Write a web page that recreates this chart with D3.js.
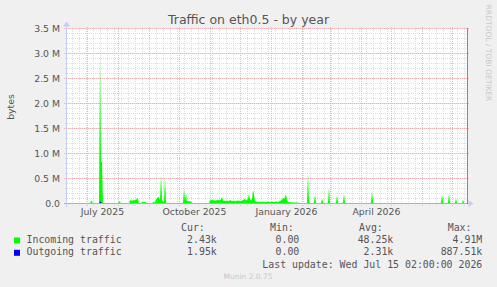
<!DOCTYPE html>
<html>
<head>
<meta charset="utf-8">
<script src="https://cdn.jsdelivr.net/npm/d3@7"></script>
<style>
  body { margin: 0; background: #f0f0f0; }
  svg { display: block; }
</style>
</head>
<body>
<svg id="chart"></svg>
<script>
// one sample per day, values in k bytes
const startDate = new Date(Date.UTC(2025, 5, 10, 2));
const endDate = new Date(Date.UTC(2026, 6, 15, 2));

const incomingK = [
  0, 0, 0, 0, 0, 0, 0, 0, 0, 0, 0, 0, 0, 0, 0, 0, 0, 0, 0, 0,
  0, 0, 0, 0, 50, 40, 0, 0, 0, 0, 0, 0, 0, 2950, 850, 820, 0, 0, 0, 0,
  0, 0, 0, 0, 0, 0, 0, 0, 0, 0, 0, 0, 40, 35, 0, 0, 0, 0, 0, 0,
  0, 0, 0, 60, 70, 50, 70, 60, 80, 60, 110, 90, 0, 0, 0, 30, 25, 30, 30, 20,
  0, 0, 0, 0, 0, 0, 30, 30, 20, 80, 100, 130, 120, 60, 570, 90, 30, 40, 530, 20,
  0, 0, 0, 0, 0, 0, 0, 0, 0, 0, 0, 0, 0, 0, 0, 0, 20, 300, 60, 200,
  40, 50, 40, 50, 30, 20, 0, 0, 0, 0, 0, 0, 0, 0, 0, 0, 0, 0, 0, 0,
  0, 0, 0, 70, 60, 80, 60, 70, 50, 70, 60, 80, 60, 70, 80, 130, 60, 50, 60, 50,
  60, 50, 50, 70, 60, 50, 50, 60, 40, 50, 60, 50, 60, 50, 50, 60, 70, 80, 100, 60,
  70, 90, 200, 80, 60, 90, 270, 180, 50, 40, 40, 30, 40, 30, 30, 30, 40, 30, 30, 30,
  30, 40, 30, 30, 30, 40, 30, 30, 30, 40, 30, 30, 40, 50, 60, 80, 110, 90, 130, 190,
  60, 30, 30, 20, 30, 20, 20, 20, 20, 20, 20, 20, 0, 0, 0, 0, 0, 0, 0, 0,
  0, 600, 40, 0, 0, 0, 0, 20, 180, 20, 0, 0, 0, 0, 10, 100, 20, 0, 0, 0,
  0, 20, 320, 20, 0, 0, 0, 0, 0, 20, 170, 20, 0, 0, 0, 0, 20, 190, 20, 0,
  0, 0, 0, 0, 0, 0, 0, 0, 0, 0, 0, 0, 0, 0, 0, 0, 0, 0, 0, 0,
  0, 0, 0, 0, 20, 250, 30, 0, 0, 0, 0, 0, 0, 0, 0, 0, 0, 0, 0, 0,
  0, 0, 0, 0, 0, 0, 0, 0, 0, 0, 0, 0, 0, 0, 0, 0, 0, 0, 0, 0,
  0, 0, 0, 0, 0, 0, 0, 0, 0, 0, 0, 0, 0, 0, 0, 0, 0, 0, 0, 0,
  0, 0, 0, 0, 0, 0, 0, 0, 0, 0, 0, 0, 0, 0, 20, 180, 30, 0, 0, 0,
  0, 20, 200, 20, 0, 0, 0, 0, 10, 100, 10, 0, 0, 0, 0, 10, 80, 10, 0, 0
];

const outgoingK = [
  2, 2, 2, 2, 2, 2, 2, 2, 2, 2, 2, 2, 2, 2, 2, 2, 2, 2, 2, 2,
  2, 2, 2, 2, 3, 3, 2, 2, 2, 2, 2, 2, 2, 40, 25, 3, 2, 2, 2, 2,
  2, 2, 2, 2, 2, 2, 2, 2, 2, 2, 2, 2, 2, 2, 2, 2, 2, 2, 2, 2,
  2, 2, 2, 2, 2, 2, 2, 2, 2, 2, 3, 3, 2, 2, 2, 2, 2, 2, 2, 2,
  2, 2, 2, 2, 2, 2, 2, 2, 2, 2, 2, 3, 3, 2, 5, 2, 2, 2, 5, 2,
  2, 2, 2, 2, 2, 2, 2, 2, 2, 2, 2, 2, 2, 2, 2, 2, 2, 4, 2, 3,
  2, 2, 2, 2, 2, 2, 2, 2, 2, 2, 2, 2, 2, 2, 2, 2, 2, 2, 2, 2,
  2, 2, 2, 2, 2, 2, 2, 2, 2, 2, 2, 2, 2, 2, 2, 3, 2, 2, 2, 2,
  2, 2, 2, 2, 2, 2, 2, 2, 2, 2, 2, 2, 2, 2, 2, 2, 2, 2, 2, 2,
  2, 2, 3, 2, 2, 2, 3, 3, 2, 2, 2, 2, 2, 2, 2, 2, 2, 2, 2, 2,
  2, 2, 2, 2, 2, 2, 2, 2, 2, 2, 2, 2, 2, 2, 2, 2, 2, 2, 2, 3,
  2, 2, 2, 2, 2, 2, 2, 2, 2, 2, 2, 2, 2, 2, 2, 2, 2, 2, 2, 2,
  2, 5, 2, 2, 2, 2, 2, 2, 3, 2, 2, 2, 2, 2, 2, 2, 2, 2, 2, 2,
  2, 2, 4, 2, 2, 2, 2, 2, 2, 2, 3, 2, 2, 2, 2, 2, 2, 3, 2, 2,
  2, 2, 2, 2, 2, 2, 2, 2, 2, 2, 2, 2, 2, 2, 2, 2, 2, 2, 2, 2,
  2, 2, 2, 2, 2, 3, 2, 2, 2, 2, 2, 2, 2, 2, 2, 2, 2, 2, 2, 2,
  2, 2, 2, 2, 2, 2, 2, 2, 2, 2, 2, 2, 2, 2, 2, 2, 2, 2, 2, 2,
  2, 2, 2, 2, 2, 2, 2, 2, 2, 2, 2, 2, 2, 2, 2, 2, 2, 2, 2, 2,
  2, 2, 2, 2, 2, 2, 2, 2, 2, 2, 2, 2, 2, 2, 2, 3, 2, 2, 2, 2,
  2, 2, 3, 2, 2, 2, 2, 2, 2, 2, 2, 2, 2, 2, 2, 2, 2, 2, 2, 2
];

const yTickValues = [0, 0.5e6, 1.0e6, 1.5e6, 2.0e6, 2.5e6, 3.0e6, 3.5e6];
const yTickLabels = ['0.0', '0.5 M', '1.0 M', '1.5 M', '2.0 M', '2.5 M', '3.0 M', '3.5 M'];
const monthLabels = ['July 2025', 'October 2025', 'January 2026', 'April 2026'];
const monthLabelStarts = [Date.UTC(2025, 6, 1), Date.UTC(2025, 9, 1), Date.UTC(2026, 0, 1), Date.UTC(2026, 3, 1)];

const seriesNames = ['Incoming traffic', 'Outgoing traffic'];
const seriesColors = ['#00ff00', '#0000ff'];
const curValues = ['2.43k', '1.95k'];
const minValues = ['0.00', '0.00'];
const avgValues = ['48.25k', '2.31k'];
const maxValues = ['4.91M', '887.51k'];

const width = 497, height = 287;
const pLeft = 66.5, pRight = 466.5, pTop = 28.5, pBottom = 203.5;
const fontColor = '#555';
const minorColor = '#dedede', majorColor = '#f2b4b4';

const svg = d3.select('#chart')
  .attr('width', width)
  .attr('height', height)
  .attr('viewBox', `0 0 ${width} ${height}`);

svg.append('rect').attr('width', width).attr('height', height).attr('fill', '#f0f0f0');
svg.append('rect')
  .attr('x', pLeft).attr('y', pTop)
  .attr('width', pRight - pLeft).attr('height', pBottom - pTop)
  .attr('fill', '#fff');

const x = d3.scaleUtc().domain([startDate, endDate]).range([pLeft, pRight]);
const y = d3.scaleLinear().domain([0, 3.5e6]).range([pBottom, pTop]);
const snap = v => Math.round(v - 0.5) + 0.5;

// minor grid
const grid = svg.append('g').attr('shape-rendering', 'crispEdges');
grid.selectAll('line.vmin')
  .data(x.ticks(d3.utcMonday.every(1)))
  .enter().append('line')
    .attr('x1', d => snap(x(d))).attr('x2', d => snap(x(d)))
    .attr('y1', pTop - 2).attr('y2', pBottom + 2)
    .style('stroke', minorColor)
    .style('stroke-dasharray', '1,1');
grid.selectAll('line.hmin')
  .data(y.ticks(35))
  .enter().append('line')
    .attr('x1', pLeft - 2).attr('x2', pRight + 2)
    .attr('y1', d => snap(y(d))).attr('y2', d => snap(y(d)))
    .style('stroke', minorColor)
    .style('stroke-dasharray', '1,1');

// major grid
grid.selectAll('line.vmaj')
  .data(x.ticks(d3.utcMonth.every(1)))
  .enter().append('line')
    .attr('x1', d => snap(x(d))).attr('x2', d => snap(x(d)))
    .attr('y1', pTop - 2).attr('y2', pBottom + 3)
    .style('stroke', majorColor)
    .style('stroke-dasharray', '1,1');
grid.selectAll('line.hmaj')
  .data(yTickValues)
  .enter().append('line')
    .attr('x1', pLeft - 3).attr('x2', pRight + 2)
    .attr('y1', d => snap(y(d))).attr('y2', d => snap(y(d)))
    .style('stroke', majorColor)
    .style('stroke-dasharray', '1,1');

// series
const dayDate = i => d3.utcHour.offset(startDate, 24 * i + 12);
const inData = incomingK.map((v, i) => ({ date: dayDate(i), v: v * 1000 }));
const outData = outgoingK.map((v, i) => ({ date: dayDate(i), v: v * 1000 }));

const area = d3.area()
  .x(d => x(d.date))
  .y0(y(0))
  .y1(d => y(d.v));

svg.append('path')
  .datum(inData)
  .attr('d', area)
  .attr('fill', seriesColors[0]);
svg.append('path')
  .datum(outData)
  .attr('d', area)
  .attr('fill', seriesColors[1]);

// axes with arrows
const axisColor = '#a8a8ec';
svg.append('line')
  .attr('x1', pLeft - 3).attr('x2', pRight + 2)
  .attr('y1', pBottom).attr('y2', pBottom)
  .style('stroke', axisColor)
  .attr('shape-rendering', 'crispEdges');
svg.append('line')
  .attr('x1', pLeft).attr('x2', pLeft)
  .attr('y1', pBottom + 3).attr('y2', pTop - 3)
  .style('stroke', '#c8ccf6')
  .attr('shape-rendering', 'crispEdges');
svg.append('path')
  .attr('d', `M${pRight + 2},${pBottom - 3.5}L${pRight + 7},${pBottom}L${pRight + 2},${pBottom + 3.5}Z`)
  .attr('fill', '#c8ccf6');
svg.append('path')
  .attr('d', `M${pLeft - 3.5},${pTop - 2}L${pLeft},${pTop - 7}L${pLeft + 3.5},${pTop - 2}Z`)
  .attr('fill', '#c8ccf6');

// right frame
svg.append('line')
  .attr('x1', pRight + 0.5).attr('x2', pRight + 0.5)
  .attr('y1', pTop - 0.5).attr('y2', pBottom)
  .style('stroke', '#8a8a8a')
  .attr('shape-rendering', 'crispEdges');

// y tick labels
svg.append('g')
  .selectAll('text')
  .data(yTickValues)
  .enter().append('text')
    .attr('x', 60)
    .attr('y', d => y(d) + 3.3)
    .attr('text-anchor', 'end')
    .style('font-family', 'DejaVu Sans')
    .style('font-size', '9.3px')
    .style('fill', fontColor)
    .text((d, i) => yTickLabels[i]);

// x labels, centred half a month after the month start
svg.append('g')
  .selectAll('text')
  .data(monthLabelStarts)
  .enter().append('text')
    .attr('x', d => x(d3.utcDay.offset(new Date(d), 15)))
    .attr('y', 215)
    .attr('text-anchor', 'middle')
    .style('font-family', 'DejaVu Sans')
    .style('font-size', '9.3px')
    .style('fill', fontColor)
    .text((d, i) => monthLabels[i]);

// title and axis label
svg.append('text')
  .attr('x', 248.5).attr('y', 23.5)
  .attr('text-anchor', 'middle')
  .style('font-family', 'DejaVu Sans')
  .style('font-size', '12.5px')
  .style('fill', fontColor)
  .text('Traffic on eth0.5 - by year');
svg.append('text')
  .attr('transform', `translate(13.5, ${(pTop + pBottom) / 2 - 9}) rotate(-90)`)
  .attr('text-anchor', 'middle')
  .style('font-family', 'DejaVu Sans')
  .style('font-size', '9.3px')
  .style('fill', fontColor)
  .text('bytes');
svg.append('text')
  .attr('transform', 'translate(485.5, 53) rotate(90)')
  .attr('text-anchor', 'middle')
  .style('font-family', 'DejaVu Sans')
  .style('font-size', '7.5px')
  .style('fill', '#c8c8c8')
  .text('RRDTOOL / TOBI OETIKER');

// legend
const mono = sel => sel
  .style('font-family', 'DejaVu Sans Mono')
  .style('font-size', '9.9px')
  .style('fill', fontColor);
const headers = [['Cur:', 181], ['Min:', 270], ['Avg:', 359], ['Max:', 447.7]];
headers.forEach(([t, hx]) => {
  svg.append('text').attr('x', hx).attr('y', 231).call(mono).text(t);
});
const colEnds = [216.8, 299.3, 393.3, 482.3];
const colValues = [curValues, minValues, avgValues, maxValues];
seriesNames.forEach((name, i) => {
  const ry = 243 + i * 12.3;
  svg.append('rect')
    .attr('x', 14).attr('y', ry - 5.5)
    .attr('width', 6).attr('height', 6)
    .attr('fill', seriesColors[i]);
  svg.append('text').attr('x', 26.5).attr('y', ry).call(mono).text(name);
  colValues.forEach((vals, c) => {
    svg.append('text')
      .attr('x', colEnds[c]).attr('y', ry)
      .attr('text-anchor', 'end')
      .call(mono)
      .text(vals[i]);
  });
});
svg.append('text')
  .attr('x', 482.3).attr('y', 267.8)
  .attr('text-anchor', 'end')
  .call(mono)
  .text('Last update: Wed Jul 15 02:00:00 2026');

svg.append('text')
  .attr('x', 248).attr('y', 279)
  .attr('text-anchor', 'middle')
  .style('font-family', 'DejaVu Sans')
  .style('font-size', '7.5px')
  .style('fill', '#c8c8c8')
  .text('Munin 2.0.75');
</script>
</body>
</html>
